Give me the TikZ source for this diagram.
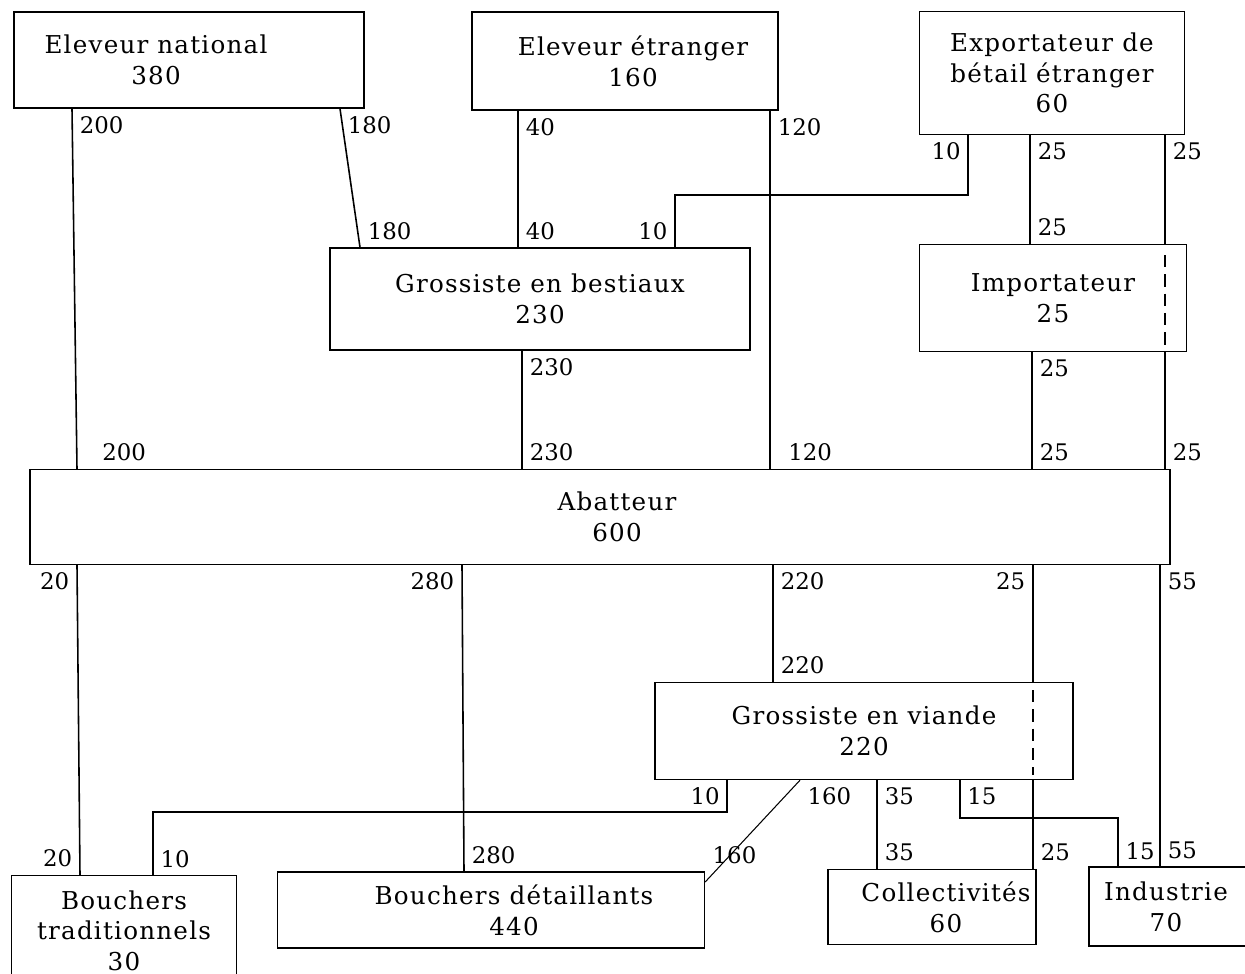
\documentclass[tikz,border=0pt]{standalone}
\usepackage{fontspec}
\setmainfont{DejaVu Serif}
\newfontfamily\cajafont{DejaVu Serif}[LetterSpace=5]
\usepackage{tikz}

\begin{document}
\begin{tikzpicture}[x=0.02cm,y=-0.02cm,
  caja/.style={draw,line width=0.8pt,align=center,inner sep=0pt,font=\cajafont\fontsize{14}{17.5}\selectfont},
  texte/.style={align=center,inner sep=0pt,font=\cajafont\fontsize{14}{17.5}\selectfont},
  flujo/.style={line width=0.9pt},
  punteado/.style={line width=0.8pt,dash pattern=on 7pt off 4pt},
  every node/.append style={font=\fontsize{13}{17}\selectfont,inner sep=4pt}]
  \useasboundingbox (0,0) rectangle (1245,974);

  % acteurs
  \node[caja,minimum width=7cm,minimum height=1.92cm,
    label={[texte,xshift=-0.66cm]center:Eleveur national\\380}] (nat) at (189,60) {};
  \node[caja,minimum width=6.12cm,minimum height=1.96cm,
    label={[texte,xshift=0.16cm]center:Eleveur étranger\\160}] (etr) at (625,61) {};
  \node[caja,minimum width=5.3cm,minimum height=2.46cm] (expo) at (1052,73) {Exportateur de\\bétail étranger\\60};
  \node[caja,minimum width=8.4cm,minimum height=2.04cm] (gbe) at (540,299) {Grossiste en bestiaux\\230};
  \node[caja,minimum width=5.34cm,minimum height=2.14cm] (imp) at (1053,298) {Importateur\\25};
  \node[caja,minimum width=22.8cm,minimum height=1.9cm,
    label={[texte,xshift=0.34cm]center:Abatteur\\600}] (aba) at (600,517) {};
  \node[caja,minimum width=8.36cm,minimum height=1.94cm] (gvi) at (864,731) {Grossiste en viande\\220};
  \node[caja,minimum width=4.5cm,minimum height=2.2cm,anchor=north] (btr) at (124,875) {Bouchers\\traditionnels\\30};
  \node[caja,minimum width=8.54cm,minimum height=1.52cm,
    label={[texte,xshift=0.46cm]center:Bouchers détaillants\\440}] (bde) at (491,910) {};
  \node[caja,minimum width=4.16cm,minimum height=1.5cm,
    label={[texte,xshift=0.28cm]center:Collectivités\\60}] (col) at (932,907) {};
  \node[texte] (ind) at (1166,907) {Industrie\\70};
  \draw[line width=0.8pt] (1290,867) -- (1089,867) coordinate (indtop) -- (1089,946) -- (1290,946);

  % vers l'abatteur
  \draw[flujo] (72,0 |- nat.south) -- (77,0 |- aba.north)
    node[at start,below right] {200} node[at end,above right,xshift=10pt] {200};
  \draw[flujo] (340,0 |- nat.south) -- (360,0 |- gbe.north)
    node[at start,below right] {180} node[at end,above right] {180};
  \draw[flujo] (518,0 |- etr.south) -- (518,0 |- gbe.north)
    node[at start,below right] {40} node[at end,above right] {40};
  \draw[flujo] (770,0 |- etr.south) -- (770,0 |- aba.north)
    node[at start,below right] {120} node[at end,above right,xshift=6pt] {120};
  \draw[line width=0.6pt] (968,0 |- expo.south) -- (968,195) -- (675,195) -- (675,0 |- gbe.north)
    node[at end,above left] {10};
  \node[below left] at (968,0 |- expo.south) {10};
  \draw[flujo] (1030,0 |- expo.south) -- (1030,0 |- imp.north)
    node[at start,below right] {25} node[at end,above right] {25};
  \draw[flujo] (1165,0 |- expo.south) -- (1165,0 |- imp.north) node[at start,below right] {25};
  \draw[punteado] (1165,255) -- (1165,345);
  \draw[flujo] (1165,0 |- imp.south) -- (1165,0 |- aba.north) node[at end,above right] {25};
  \draw[flujo] (522,0 |- gbe.south) -- (522,0 |- aba.north)
    node[at start,below right] {230} node[at end,above right] {230};
  \draw[flujo] (1032,0 |- imp.south) -- (1032,0 |- aba.north)
    node[at start,below right] {25} node[at end,above right] {25};

  % depuis l'abatteur
  \draw[flujo] (77,0 |- aba.south) -- (80,0 |- btr.north)
    node[at start,below left] {20} node[at end,above left] {20};
  \draw[flujo] (462,0 |- aba.south) -- (464,0 |- bde.north)
    node[at start,below left] {280} node[at end,above right] {280};
  \draw[flujo] (773,0 |- aba.south) -- (773,0 |- gvi.north)
    node[at start,below right] {220} node[at end,above right] {220};
  \draw[flujo] (1033,0 |- aba.south) -- (1033,0 |- gvi.north) node[at start,below left] {25};
  \draw[punteado] (1033,690) -- (1033,775);
  \draw[flujo] (1033,0 |- gvi.south) -- (1033,0 |- col.north) node[at end,above right] {25};
  \draw[flujo] (1160,0 |- aba.south) -- (1160,0 |- indtop)
    node[at start,below right] {55} node[at end,above right] {55};

  % depuis le grossiste en viande
  \draw[line width=0.6pt] (727,0 |- gvi.south) -- (727,812) -- (153,812) -- (153,0 |- btr.north)
    node[at end,above right] {10};
  \node[below left] at (727,0 |- gvi.south) {10};
  \draw[line width=0.6pt] (800,0 |- gvi.south) -- (bde.north east |- 0,882)
    node[at start,below right] {160} node[at end,above right,yshift=6pt] {160};
  \draw[flujo] (877,0 |- gvi.south) -- (877,0 |- col.north)
    node[at start,below right] {35} node[at end,above right] {35};
  \draw[line width=0.6pt] (960,0 |- gvi.south) -- (960,818) -- (1118,818) -- (1118,0 |- indtop)
    node[at end,above right] {15};
  \node[below right] at (960,0 |- gvi.south) {15};
\end{tikzpicture}
\end{document}
